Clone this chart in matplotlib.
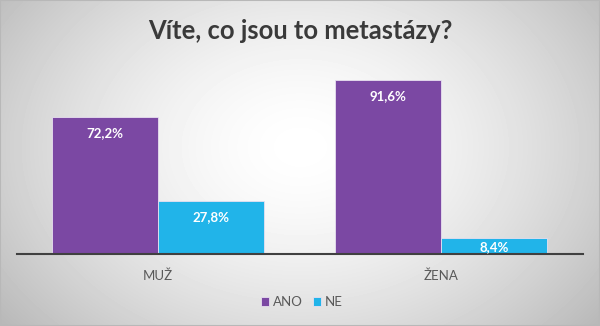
import numpy as np
import matplotlib
matplotlib.use("Agg")
import matplotlib.pyplot as plt
from matplotlib.patches import Rectangle

categories = ["MUŽ", "ŽENA"]
series_names = ["ANO", "NE"]
ano_values = [72.2, 91.6]
ne_values = [27.8, 8.4]
colors = ["#7B48A3", "#21B4E9"]
title = "Víte, co jsou to metastázy?"

plt.rcParams["font.family"] = ["Lato", "DejaVu Sans"]

W, H = 600, 326
fig = plt.figure(figsize=(W / 100, H / 100), dpi=100)

# radial grey-to-white background
bg = fig.add_axes([0, 0, 1, 1], zorder=-10)
yy, xx = np.mgrid[0:H, 0:W]
r = np.sqrt(((xx - W * 0.5) / (W * 0.55)) ** 2 + ((yy - H * 0.45) / (H * 0.75)) ** 2)
val = 1.0 - 0.22 * np.clip(r, 0, 1.3) ** 1.6
bg.imshow(val, cmap="gray", vmin=0, vmax=1, aspect="auto", interpolation="bilinear")
bg.set_axis_off()
fig.patches.append(Rectangle((0, 0), 1, 1, transform=fig.transFigure, fill=False,
                             edgecolor="#b8b8b8", linewidth=1.5))

ax = fig.add_axes([16.5 / W, 1 - 254 / H, (582.5 - 16.5) / W, (254 - 64) / H])
ax.patch.set_alpha(0)
x = np.arange(len(categories))
w = 0.375
for i, (vals, c) in enumerate(zip([ano_values, ne_values], colors)):
    bars = ax.bar(x + (i - 0.5) * w, vals, w, color=c, edgecolor="#e8e0f0",
                  linewidth=0.6, label=series_names[i])
    for b, v in zip(bars, vals):
        ypos = max(v - 8.4, v / 2 - 0.5)
        ax.text(b.get_x() + b.get_width() / 2, ypos, f"{v:.1f}%".replace(".", ","),
                ha="center", va="center", color="white", fontsize=9.5, fontweight="bold")

ax.set_xlim(-0.5, 1.5)
ax.set_ylim(0, 100)
ax.set_yticks([])
ax.set_xticks(x)
ax.set_xticklabels(categories, fontsize=9.5, color="#595959")
ax.tick_params(axis="x", length=0, pad=11)
for s in ["top", "right", "left"]:
    ax.spines[s].set_visible(False)
ax.spines["bottom"].set_color("#404040")
ax.spines["bottom"].set_linewidth(1.5)

fig.text(0.5, 1 - 31 / H, title, ha="center", va="center", fontsize=18.4,
         fontweight="bold", color="#3a3a3a")

leg = fig.legend(loc="center", bbox_to_anchor=(0.503, 1 - 302 / H), ncol=2, frameon=False,
                 fontsize=9.5, handlelength=0.6, handleheight=0.6, handletextpad=0.3,
                 columnspacing=0.8)
for t in leg.get_texts():
    t.set_color("#595959")

fig.savefig("out.png", dpi=100)
